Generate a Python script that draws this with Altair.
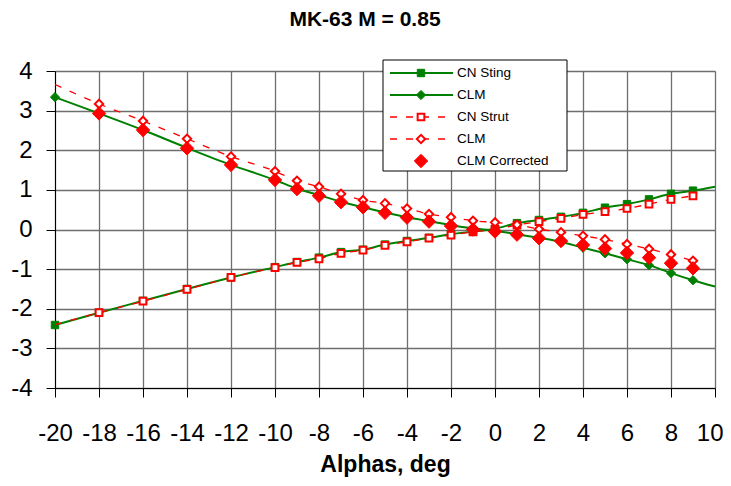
import altair as alt
import pandas as pd

# ---------------- data ----------------
alpha_sting = [-20, -18, -16, -14, -12, -10, -9, -8, -7, -6, -5, -4, -3, -2, -1,
               0, 1, 2, 3, 4, 5, 6, 7, 8, 9]
cn_sting = [-2.41, -2.10, -1.80, -1.50, -1.21, -0.95, -0.82, -0.71, -0.57, -0.51,
            -0.38, -0.29, -0.21, -0.12, -0.05, 0.02, 0.16, 0.24, 0.32, 0.42,
            0.55, 0.64, 0.76, 0.90, 0.98]
clm_sting = [3.34, 2.93, 2.51, 2.06, 1.63, 1.25, 1.03, 0.87, 0.70, 0.56,
             0.43, 0.31, 0.21, 0.11, 0.03, -0.03, -0.12, -0.21, -0.31, -0.46,
             -0.60, -0.75, -0.90, -1.10, -1.28]

alpha_strut = [-18, -16, -14, -12, -10, -9, -8, -7, -6, -5, -4, -3, -2, -1,
               0, 1, 2, 3, 4, 5, 6, 7, 8, 9]
cn_strut = [-2.10, -1.81, -1.51, -1.21, -0.96, -0.83, -0.74, -0.60, -0.52, -0.40,
            -0.31, -0.22, -0.14, -0.06, 0.00, 0.11, 0.20, 0.28, 0.38, 0.45,
            0.53, 0.64, 0.76, 0.85]
clm_strut = [3.17, 2.74, 2.29, 1.84, 1.47, 1.23, 1.08, 0.90, 0.74, 0.66,
             0.53, 0.39, 0.31, 0.22, 0.18, 0.12, 0.01, -0.07, -0.16, -0.25,
             -0.37, -0.49, -0.63, -0.79]
clm_corrected = [2.93, 2.51, 2.05, 1.63, 1.25, 1.02, 0.85, 0.69, 0.56, 0.42,
                 0.30, 0.20, 0.09, 0.00, -0.05, -0.13, -0.22, -0.29, -0.39, -0.48,
                 -0.59, -0.71, -0.85, -0.98]

# trend-line end points (lines run past the markers)
sting_line_end_alpha = 10
cn_sting_line_end = 1.08
clm_sting_line_end = -1.44
strut_line_start_alpha = -20
cn_strut_line_start = -2.40
clm_strut_line_start = 3.66

x_ticks = list(range(-20, 11, 2))
y_ticks = list(range(-4, 5))

legend_keys = ["CN Sting", "CLM Sting", "CN Strut", "CLM Strut", "CLM Corrected"]
legend_labels = ["CN Sting", "CLM", "CN Strut", "CLM", "CLM Corrected"]

# ---------------- styling ----------------
GREEN = "#008000"
RED = "#FF0000"
FONT = "Liberation Sans"
GRID = "#6e6e6e"

styles = {
    "CN Sting": dict(shape="square", filled=True, fill=GREEN, stroke=GREEN, strokeWidth=1, size=55),
    "CLM Sting": dict(shape="diamond", filled=True, fill=GREEN, stroke=GREEN, strokeWidth=1, size=85),
    "CN Strut": dict(shape="square", filled=True, fill="white", stroke=RED, strokeWidth=2, size=45),
    "CLM Strut": dict(shape="diamond", filled=True, fill="white", stroke=RED, strokeWidth=2, size=70),
    "CLM Corrected": dict(shape="diamond", filled=True, fill=RED, stroke=RED, strokeWidth=1, size=180),
}


def marker(data, key, enc):
    s = styles[key]
    return alt.Chart(data).mark_point(opacity=1, fillOpacity=1, **s).encode(**enc)


last_tick_test = "datum.value == 10"
x_axis = alt.Axis(values=x_ticks, grid=True, gridColor=GRID, gridWidth=1.3,
                  domainColor="black", domainWidth=1, tickColor="black", tickSize=9,
                  labelFontSize=24, labelFont=FONT, labelColor="black", labelPadding=24,
                  labelExpr="datum.value + ''",
                  labelAlign={"condition": {"test": last_tick_test, "value": "right"},
                              "value": "center"},
                  labelOffset={"condition": {"test": last_tick_test, "value": 8},
                               "value": 0},
                  labelFlush=False, title="Alphas, deg", titleFont=FONT, titleFontSize=23,
                  titleFontWeight="bold", titleColor="black", titlePadding=8)
y_axis = alt.Axis(values=y_ticks, grid=True, gridColor=GRID, gridWidth=1.3,
                  domainColor="black", domainWidth=1, tickColor="black", tickSize=9,
                  labelFontSize=24, labelFont=FONT, labelColor="black", labelPadding=14,
                  labelExpr="datum.value + ''",
                  labelFlush=False, title=None)

X = alt.X("alpha:Q", scale=alt.Scale(domain=[-20, 10], nice=False, zero=False), axis=x_axis)
Y = alt.Y("v:Q", scale=alt.Scale(domain=[-4, 4], nice=False, zero=False), axis=y_axis)
enc = dict(x=X, y=Y)

df_cn_sting = pd.DataFrame({"alpha": alpha_sting, "v": cn_sting})
df_clm_sting = pd.DataFrame({"alpha": alpha_sting, "v": clm_sting})
df_cn_strut = pd.DataFrame({"alpha": alpha_strut, "v": cn_strut})
df_clm_strut = pd.DataFrame({"alpha": alpha_strut, "v": clm_strut})
df_corr = pd.DataFrame({"alpha": alpha_strut, "v": clm_corrected})

df_cn_sting_line = pd.DataFrame({"alpha": alpha_sting + [sting_line_end_alpha],
                                 "v": cn_sting + [cn_sting_line_end]})
df_clm_sting_line = pd.DataFrame({"alpha": alpha_sting + [sting_line_end_alpha],
                                  "v": clm_sting + [clm_sting_line_end]})
df_cn_strut_line = pd.DataFrame({"alpha": [strut_line_start_alpha] + alpha_strut,
                                 "v": [cn_strut_line_start] + cn_strut})
df_clm_strut_line = pd.DataFrame({"alpha": [strut_line_start_alpha] + alpha_strut,
                                  "v": [clm_strut_line_start] + clm_strut})

green_line = dict(color=GREEN, strokeWidth=2, interpolate="monotone")
red_line = dict(color=RED, strokeWidth=1.3, strokeDash=[7, 9], interpolate="monotone")

main = alt.layer(
    alt.Chart(df_cn_sting_line).mark_line(**green_line).encode(**enc),
    alt.Chart(df_clm_sting_line).mark_line(**green_line).encode(**enc),
    marker(df_cn_sting, "CN Sting", enc),
    marker(df_clm_sting, "CLM Sting", enc),
    alt.Chart(df_cn_strut_line).mark_line(**red_line).encode(**enc),
    alt.Chart(df_clm_strut_line).mark_line(**red_line).encode(**enc),
    marker(df_cn_strut, "CN Strut", enc),
    marker(df_clm_strut, "CLM Strut", enc),
    marker(df_corr, "CLM Corrected", enc),
)

# ---------------- hand-drawn legend box ----------------
leg_df = pd.DataFrame({"key": legend_keys, "label": legend_labels})
LY = alt.Y("key:N", scale=alt.Scale(domain=legend_keys, range=[2, 90], type="point", padding=0),
           axis=None)

legend_layers = [
    alt.Chart(leg_df.head(1)).mark_rect(fill="white", stroke="black", strokeWidth=1).encode(
        x=alt.value(328), x2=alt.value(512), y=alt.value(-11), y2=alt.value(100)),
    alt.Chart(leg_df.iloc[0:2]).mark_rule(color=GREEN, strokeWidth=2).encode(
        x=alt.value(335), x2=alt.value(398), y=LY),
    alt.Chart(leg_df.iloc[2:4]).mark_rule(color=RED, strokeWidth=1.3, strokeDash=[7, 9]).encode(
        x=alt.value(335), x2=alt.value(398), y=LY),
]
for k in legend_keys:
    legend_layers.append(marker(leg_df[leg_df.key == k], k, dict(x=alt.value(366), y=LY)))
legend_layers.append(
    alt.Chart(leg_df).mark_text(align="left", baseline="middle", fontSize=13.5, font=FONT,
                                color="black").encode(x=alt.value(402), y=LY, text="label:N"))
legend = alt.layer(*legend_layers)

chart = alt.layer(main, legend).resolve_scale(y="independent").properties(
    width=660, height=317,
    title=alt.TitleParams("MK-63 M = 0.85", font=FONT, fontSize=21, fontWeight="bold",
                          color="black", anchor="middle", dx=-20, offset=29),
    autosize=alt.AutoSizeParams(type="none"),
    padding={"left": 47, "top": 63, "right": 8, "bottom": 90},
).configure_view(stroke=GRID, strokeWidth=1.3).configure(background="white")

chart.save("out.html", embed_options={"renderer": "svg", "actions": False})
